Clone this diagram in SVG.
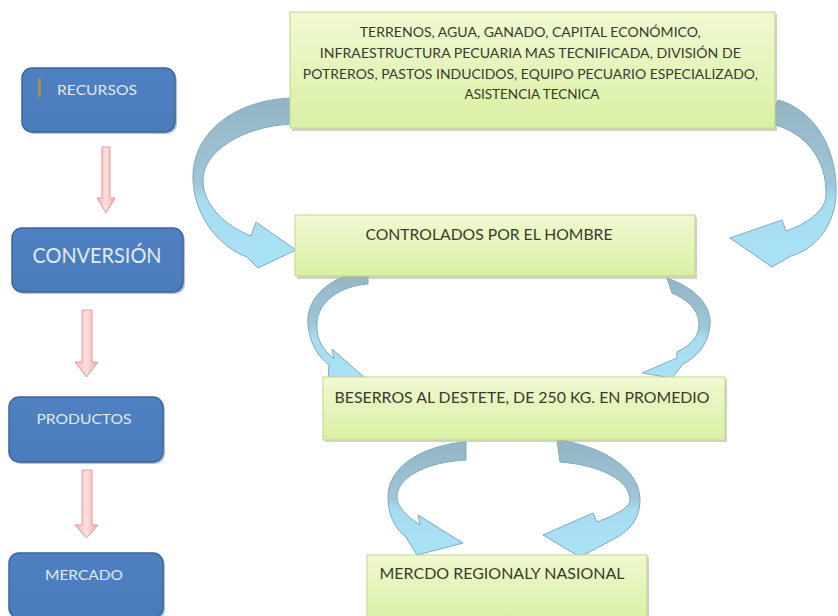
<svg xmlns="http://www.w3.org/2000/svg" width="838" height="616" viewBox="0 0 838 616">
<defs>
<linearGradient id="gGreen" x1="0" y1="0" x2="0" y2="1">
<stop offset="0" stop-color="#f1f9d2"/>
<stop offset="1" stop-color="#d9f0a3"/>
</linearGradient>
<linearGradient id="gBlue" x1="0" y1="0" x2="0" y2="1">
<stop offset="0" stop-color="#4f81c2"/>
<stop offset="1" stop-color="#4a7bbb"/>
</linearGradient>
<linearGradient id="gPink" x1="0" y1="0" x2="1" y2="0">
<stop offset="0" stop-color="#f4b4b4"/>
<stop offset="0.5" stop-color="#fde0e0"/>
<stop offset="1" stop-color="#f0a8a8"/>
</linearGradient>
<linearGradient id="gCurve" x1="0" y1="0" x2="0" y2="1">
<stop offset="0" stop-color="#93b5c6"/>
<stop offset="0.5" stop-color="#9fc6d6"/>
<stop offset="0.6" stop-color="#a6dcf0"/>
<stop offset="1" stop-color="#a9e2f6"/>
</linearGradient>
<style>
.blue{fill:url(#gBlue);stroke:#3b6699;stroke-width:1.5}
.bshadow{fill:#2e4e78;opacity:0.35}
.btxt{font-family:Lato,"Open Sans","Liberation Sans",sans-serif;fill:#e2e9f2;text-anchor:middle}
.green{fill:url(#gGreen);stroke:#c3d48e;stroke-width:1}
.gshadow{fill:#a9b596;opacity:0.55}
.gtxt{font-family:Lato,"Open Sans","Liberation Sans",sans-serif;fill:#3a3a30;text-anchor:middle}
.pink{fill:url(#gPink);stroke:#e29a9a;stroke-width:1}
.curve{fill:url(#gCurve);stroke:#7fa9bf;stroke-width:1}
</style>
</defs>
<rect width="838" height="616" fill="#ffffff"/>

<g id="connectors">
<path class="pink" d="M102,147 h8 v51 h5 l-9,15 l-9,-15 h5 z"/>
<path class="pink" d="M82,310 h10 v52 h6 l-11.5,15 l-11.5,-15 h7 z"/>
<path class="pink" d="M82,470 h10 v55 h6 l-11.5,13 l-11.5,-13 h7 z"/>
<path class="curve" d="M292,98 C232,100 191,135 193,180 C195,220 222,248 247,257 L258,268 L296,250 L256,222 L251,236 C226,226 203,206 203,180 C203,151 244,126 292,124 Z"/>
<path class="curve" d="M778,100 C815,110 838,150 836,195 C834,230 812,250 791,256 L772,267 L730,238 L782,220 L786,231 C806,224 826,211 826,195 C827,160 806,131 768,123 Z"/>
<path class="curve" d="M368,270 C333,275 305,296 308,325 C310,345 319,357 329,365 L328,380 L364,377 L332,349 L334,359 C322,349 316,338 317,325 C317,301 341,286 368,284 Z"/>
<path class="curve" d="M667,278 C695,288 712,305 710,326 C708,346 695,358 683,364 L672,378 L642,373 L677,358 L677,352 C691,345 699,336 699,325 C699,310 688,300 672,293 Z"/>
<path class="curve" d="M466,442 C425,445 388,465 388,497 C388,515 395,529 406,537 L417,555 L463,543 L418,515 L420,525 C405,515 397,506 397,497 C397,478 425,462 466,460 Z"/>
<path class="curve" d="M557,440 C600,445 640,468 640,500 C640,520 628,532 612,540 L580,557 L543,535 L593,513 L597,522 C615,515 630,508 630,500 C630,480 600,465 560,462 Z"/>
</g>

<g id="recursos">
<rect class="bshadow" x="24" y="70" width="153" height="64" rx="10"/>
<rect class="blue" x="22" y="68" width="153" height="64" rx="10"/>
<rect x="38" y="78" width="3" height="19" fill="#b08a4a"/>
<text class="btxt" x="97" y="95" font-size="14" textLength="80" lengthAdjust="spacingAndGlyphs">RECURSOS</text>
</g>
<g id="conversion">
<rect class="bshadow" x="14" y="230" width="171" height="64" rx="10"/>
<rect class="blue" x="12" y="228" width="171" height="64" rx="10"/>
<text class="btxt" x="97" y="263" font-size="22" textLength="129" lengthAdjust="spacingAndGlyphs">CONVERSIÓN</text>
</g>
<g id="productos">
<rect class="bshadow" x="11" y="399" width="154" height="65" rx="10"/>
<rect class="blue" x="9" y="397" width="154" height="65" rx="10"/>
<text class="btxt" x="84" y="424" font-size="14" textLength="95" lengthAdjust="spacingAndGlyphs">PRODUCTOS</text>
</g>
<g id="mercado">
<rect class="bshadow" x="11" y="555" width="154" height="65" rx="10"/>
<rect class="blue" x="9" y="553" width="154" height="65" rx="10"/>
<text class="btxt" x="84" y="580" font-size="14" textLength="78" lengthAdjust="spacingAndGlyphs">MERCADO</text>
</g>

<g id="recursos-detalle">
<rect class="gshadow" x="292" y="14" width="485" height="117"/>
<rect class="green" x="290" y="12" width="485" height="116"/>
<text class="gtxt" font-size="13">
<tspan x="532" y="37" textLength="341" lengthAdjust="spacingAndGlyphs">TERRENOS,  AGUA, GANADO, CAPITAL ECONÓMICO,</tspan>
<tspan x="532" y="58" textLength="421" lengthAdjust="spacingAndGlyphs">INFRAESTRUCTURA   PECUARIA MAS TECNIFICADA, DIVISIÓN  DE</tspan>
<tspan x="532" y="79" textLength="455" lengthAdjust="spacingAndGlyphs">POTREROS,  PASTOS INDUCIDOS,  EQUIPO  PECUARIO ESPECIALIZADO,</tspan>
<tspan x="532" y="99" textLength="135" lengthAdjust="spacingAndGlyphs">ASISTENCIA  TECNICA</tspan>
</text>
</g>
<g id="controlados">
<rect class="gshadow" x="297" y="217" width="400" height="62"/>
<rect class="green" x="295" y="215" width="400" height="61"/>
<text class="gtxt" x="489" y="240" font-size="15" textLength="247" lengthAdjust="spacingAndGlyphs">CONTROLADOS POR EL HOMBRE</text>
</g>
<g id="beserros">
<rect class="gshadow" x="325" y="379" width="402" height="63"/>
<rect class="green" x="323" y="377" width="402" height="63"/>
<text class="gtxt" x="522" y="403" font-size="15" textLength="375" lengthAdjust="spacingAndGlyphs">BESERROS AL DESTETE, DE 250 KG. EN PROMEDIO</text>
</g>
<g id="mercdo">
<rect class="gshadow" x="369" y="557" width="280" height="62"/>
<rect class="green" x="367" y="555" width="280" height="62"/>
<text class="gtxt" x="502" y="579" font-size="16" textLength="245" lengthAdjust="spacingAndGlyphs">MERCDO REGIONALY NASIONAL</text>
</g>
</svg>
